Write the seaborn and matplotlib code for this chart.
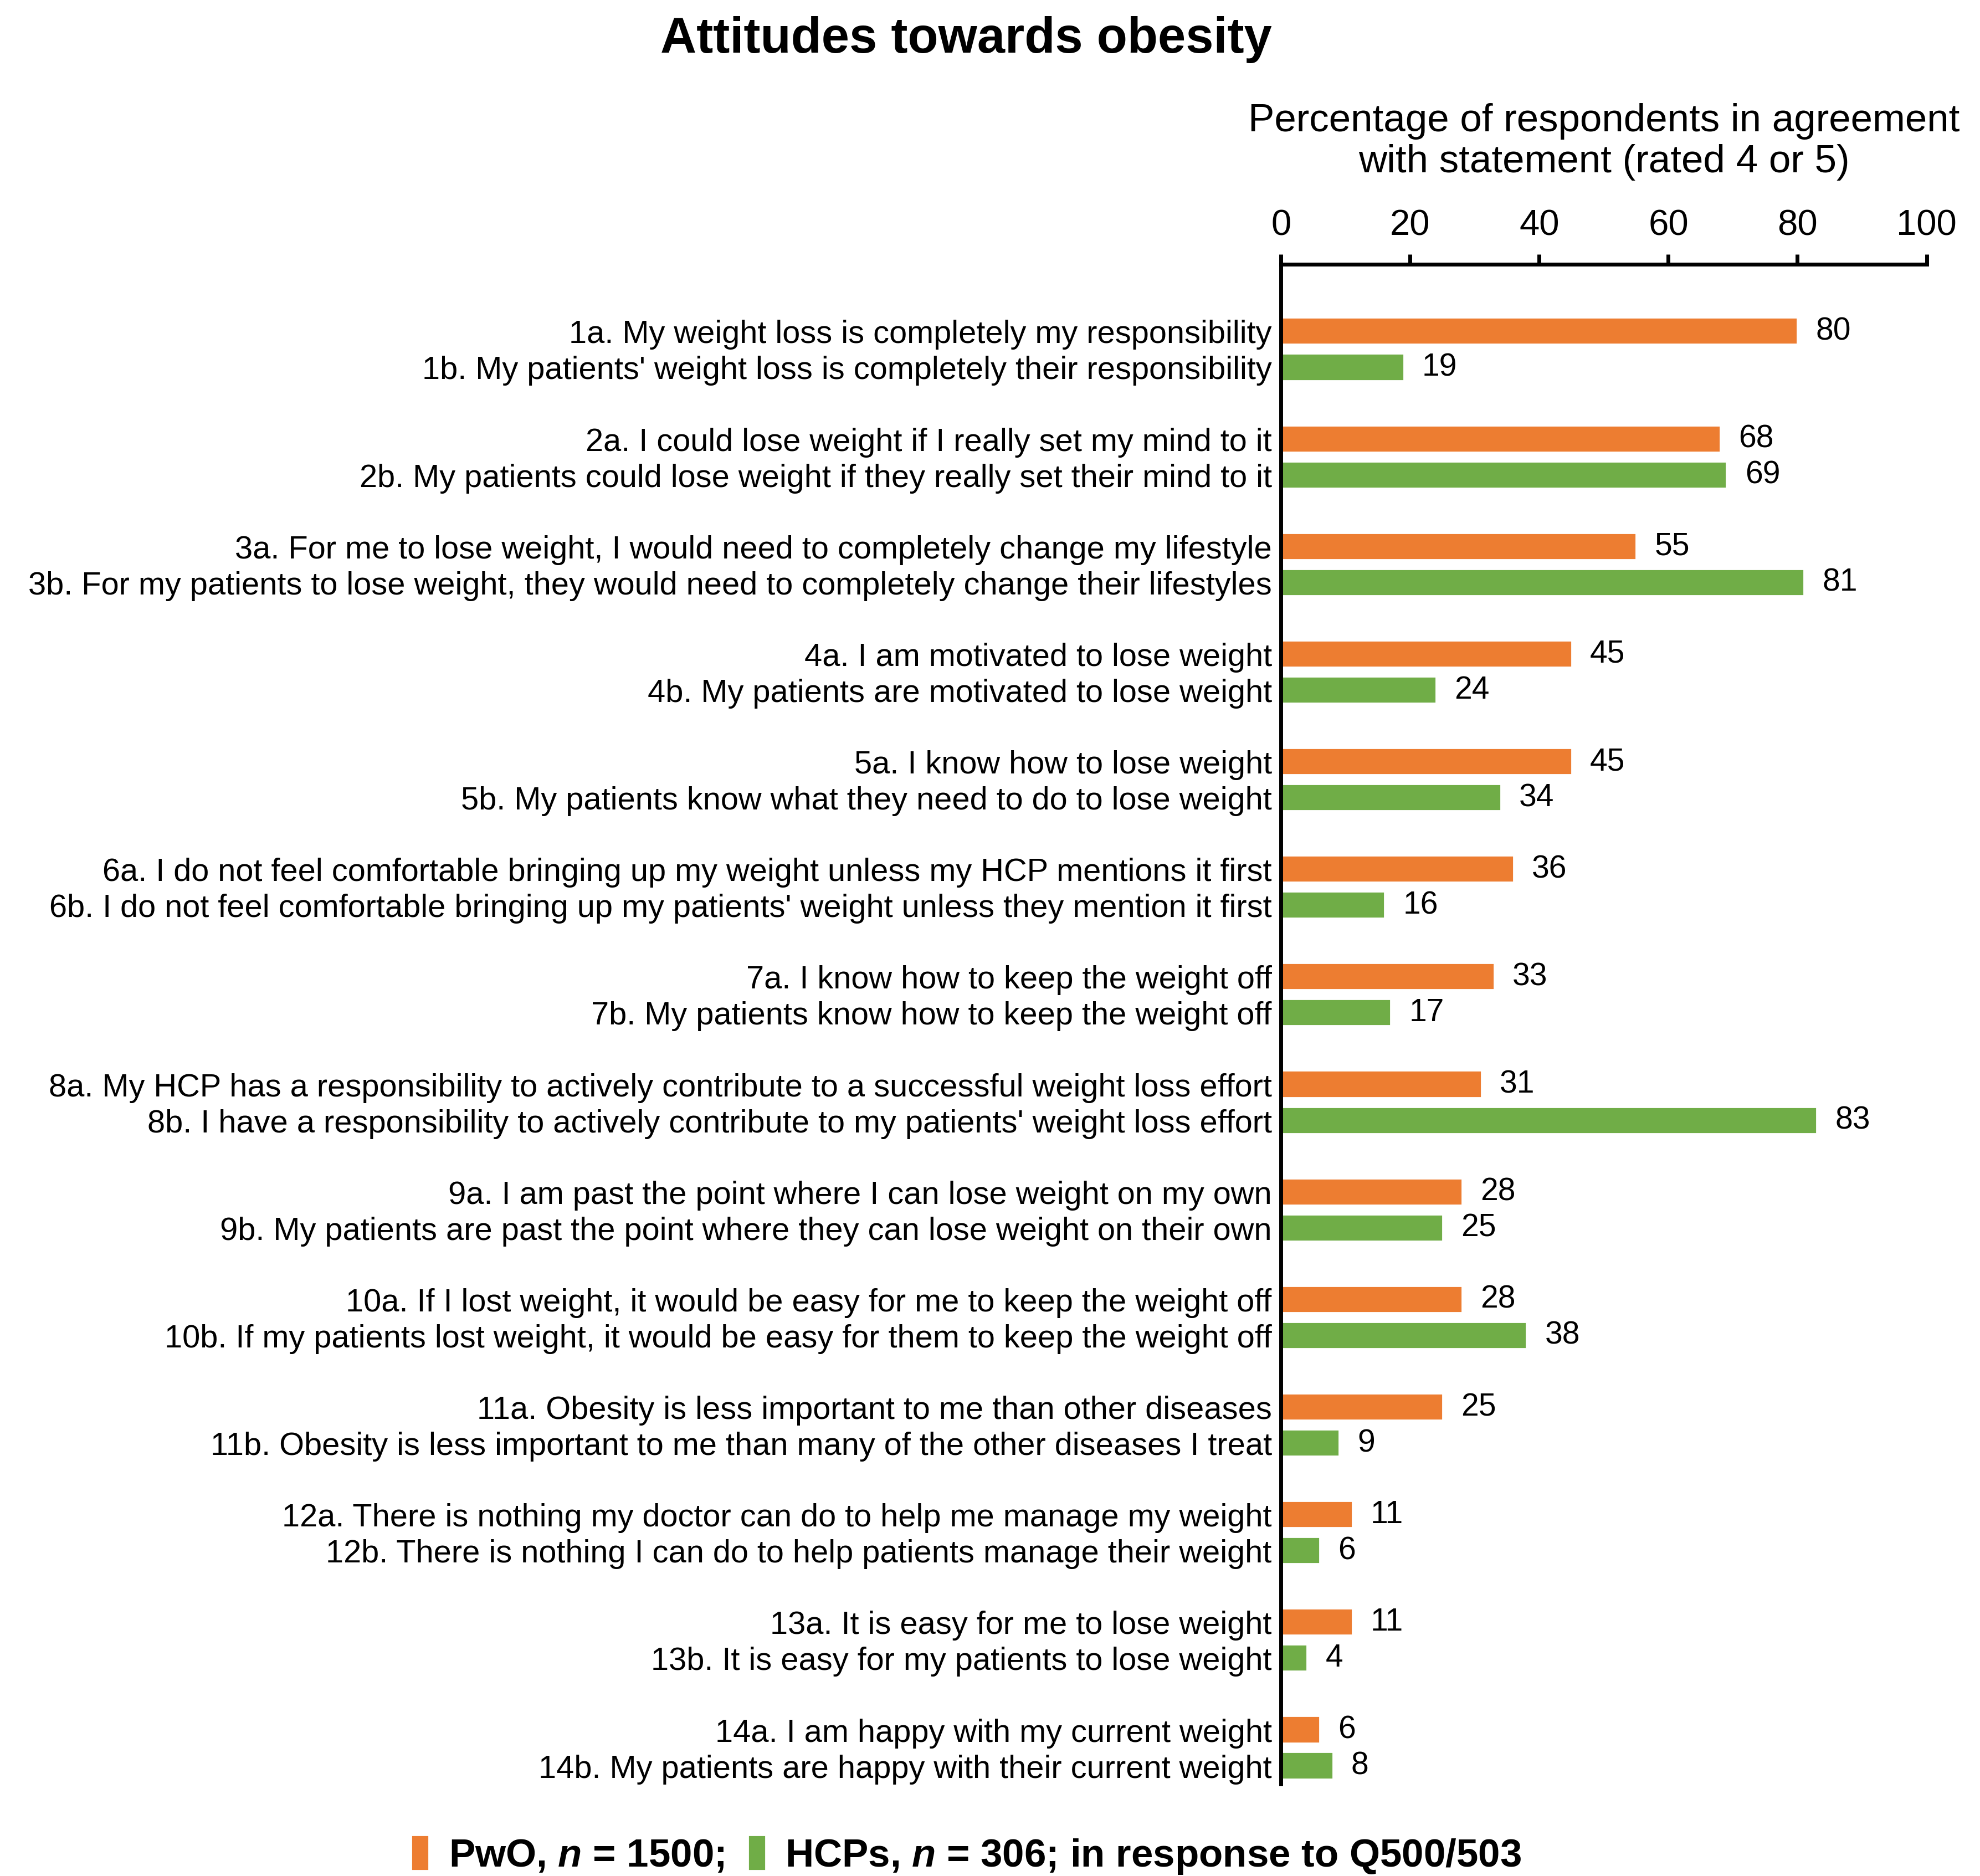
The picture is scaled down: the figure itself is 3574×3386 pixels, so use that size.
import pandas as pd
import seaborn as sns
import matplotlib.pyplot as plt

groups = ['PwO', 'HCPs']
pwo_values = [80, 68, 55, 45, 45, 36, 33, 31, 28, 28, 25, 11, 11, 6]
hcp_values = [19, 69, 81, 24, 34, 16, 17, 83, 25, 38, 9, 6, 4, 8]
pwo_labels = [
    "1a. My weight loss is completely my responsibility",
    "2a. I could lose weight if I really set my mind to it",
    "3a. For me to lose weight, I would need to completely change my lifestyle",
    "4a. I am motivated to lose weight",
    "5a. I know how to lose weight",
    "6a. I do not feel comfortable bringing up my weight unless my HCP mentions it first",
    "7a. I know how to keep the weight off",
    "8a. My HCP has a responsibility to actively contribute to a successful weight loss effort",
    "9a. I am past the point where I can lose weight on my own",
    "10a. If I lost weight, it would be easy for me to keep the weight off",
    "11a. Obesity is less important to me than other diseases",
    "12a. There is nothing my doctor can do to help me manage my weight",
    "13a. It is easy for me to lose weight",
    "14a. I am happy with my current weight",
]
hcp_labels = [
    "1b. My patients' weight loss is completely their responsibility",
    "2b. My patients could lose weight if they really set their mind to it",
    "3b. For my patients to lose weight, they would need to completely change their lifestyles",
    "4b. My patients are motivated to lose weight",
    "5b. My patients know what they need to do to lose weight",
    "6b. I do not feel comfortable bringing up my patients' weight unless they mention it first",
    "7b. My patients know how to keep the weight off",
    "8b. I have a responsibility to actively contribute to my patients' weight loss effort",
    "9b. My patients are past the point where they can lose weight on their own",
    "10b. If my patients lost weight, it would be easy for them to keep the weight off",
    "11b. Obesity is less important to me than many of the other diseases I treat",
    "12b. There is nothing I can do to help patients manage their weight",
    "13b. It is easy for my patients to lose weight",
    "14b. My patients are happy with their current weight",
]
xticks = [0, 20, 40, 60, 80, 100]

n = len(pwo_values)
data = pd.DataFrame({
    'item': [str(i + 1) for i in range(n)] * 2,
    'group': [groups[0]] * n + [groups[1]] * n,
    'value': pwo_values + hcp_values,
})

sns.set_style('white')
plt.rcParams['font.family'] = ['Liberation Sans', 'DejaVu Sans']
plt.rcParams['text.color'] = 'black'
plt.rcParams['axes.labelcolor'] = 'black'
plt.rcParams['xtick.color'] = 'black'
plt.rcParams['ytick.color'] = 'black'
plt.rcParams['mathtext.fontset'] = 'custom'
plt.rcParams['mathtext.it'] = 'Liberation Sans:italic:bold'
plt.rcParams['mathtext.rm'] = 'Liberation Sans:bold'

fig = plt.figure(figsize=(17.87, 16.935), dpi=200)
ax = fig.add_axes([0.647, 0.049, 0.326, 0.81])
sns.barplot(data=data, x='value', y='item', hue='group', orient='h',
            palette=['#ED7D31', '#70AD47'], width=0.67, gap=0.26,
            saturation=1, ax=ax)

ax.set_xlim(0, 100)
ax.set_ylim(13.34, -0.79)
ax.xaxis.tick_top()
ax.xaxis.set_label_position('top')
ax.set_xticks(xticks)
ax.tick_params(axis='x', direction='out', length=6.5, width=2.5,
               labelsize=23.5, pad=8, color='black')
ax.set_xlabel('Percentage of respondents in agreement\nwith statement (rated 4 or 5)',
              fontsize=25.5, labelpad=24, linespacing=1.15)

# one tick label per bar
ticks = []
labels = []
for cont, labs in zip(ax.containers, [pwo_labels, hcp_labels]):
    for bar, lab in zip(cont, labs):
        ticks.append(bar.get_y() + bar.get_height() / 2)
        labels.append(lab)
    ax.bar_label(cont, padding=12, fontsize=20.5)
ax.set_yticks(ticks)
ax.set_yticklabels(labels, fontsize=20.8)
ax.tick_params(axis='y', length=0, pad=6)
ax.set_ylabel('')

for s in ['right', 'bottom']:
    ax.spines[s].set_visible(False)
for s in ['top', 'left']:
    ax.spines[s].set_linewidth(2.5)
    ax.spines[s].set_color('black')

handles, _ = ax.get_legend_handles_labels()
ax.get_legend().remove()
fig.legend(handles, ['PwO, $n$ = 1500;', 'HCPs, $n$ = 306; in response to Q500/503'],
           loc='center', bbox_to_anchor=(0.488, 0.011), ncol=2, frameon=False,
           prop={'weight': 'bold', 'size': 25.5}, handlelength=0.45, handleheight=1.0,
           handletextpad=0.5, columnspacing=0.6)

fig.text(0.488, 0.979, 'Attitudes towards obesity', ha='center', va='center',
         fontsize=32.5, fontweight='bold')

fig.savefig('out.png', dpi=200)
